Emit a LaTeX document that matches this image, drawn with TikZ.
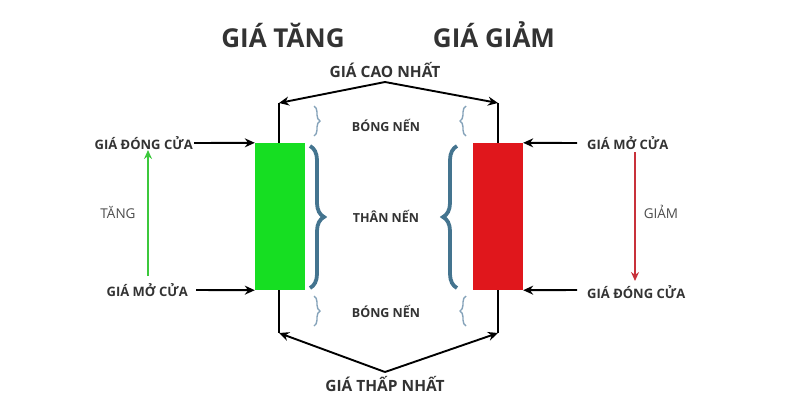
\documentclass[tikz,border=0pt]{standalone}
\usepackage{fontspec}
\setmainfont{Open Sans}
\usetikzlibrary{arrows.meta,decorations.pathreplacing}

\definecolor{upgreen}{HTML}{16DE22}
\definecolor{downred}{HTML}{E0171C}
\definecolor{uparrow}{HTML}{3CC83C}
\definecolor{downarrow}{HTML}{C8313A}
\definecolor{bracedark}{HTML}{44748F}
\definecolor{bracelight}{HTML}{86A3BA}
\definecolor{textgray}{HTML}{333333}

\begin{document}
\begin{tikzpicture}[x=1pt, y=-1pt,
    title/.style={font=\bfseries\fontsize{26}{30}\selectfont, text=textgray},
    lbl/.style={font=\bfseries\fontsize{13}{15}\selectfont, text=textgray, inner sep=1pt},
    extlbl/.style={font=\bfseries\fontsize{15.5}{18}\selectfont, text=textgray, inner sep=1pt},
    midlbl/.style={font=\bfseries\fontsize{12.5}{14}\selectfont, text=textgray},
    dirlbl/.style={font=\fontsize{13.5}{16}\selectfont, text=black!70},
    candle/.style={minimum width=50pt, minimum height=147pt, inner sep=0pt},
    ptr/.style={line width=1.9pt, -{Stealth[length=10pt,width=9pt]}},
    wick/.style={line width=1.9pt},
    bigbrace/.style={line width=3.8pt, draw=bracedark, decorate, decoration={brace, amplitude=14pt}},
    smallbrace/.style={line width=1.4pt, draw=bracelight, decorate, decoration={brace, amplitude=6pt}}]
    \useasboundingbox (0,0) rectangle (800,400);

    % titles
    \node[title] (tup) at (283,35) {GIÁ TĂNG};
    \node[title] (tdown) at (494,35) {GIÁ GIẢM};

    % wick ends
    \coordinate (ghigh) at (279,103);
    \coordinate (glow) at (279,333);
    \coordinate (rhigh) at (498,103);
    \coordinate (rlow) at (498,333);
    \draw[wick] (ghigh) -- (glow);
    \draw[wick] (rhigh) -- (rlow);

    % candle bodies
    \node[candle, fill=upgreen] (gbody) at (280,216.5) {};
    \node[candle, fill=downred] (rbody) at (498,216.5) {};

    % highest and lowest price
    \node[extlbl] (high) at (385,70) {GIÁ CAO NHẤT};
    \coordinate (hpt) at (385,82);
    \draw[ptr] (hpt) -- (ghigh);
    \draw[ptr] (hpt) -- (rhigh);
    \node[extlbl] (low) at (385,384) {GIÁ THẤP NHẤT};
    \coordinate (lpt) at (385,372);
    \draw[ptr] (lpt) -- (glow);
    \draw[ptr] (lpt) -- (rlow);

    % left side labels
    \node[lbl, anchor=east] (gclose) at (194,143) {GIÁ ĐÓNG CỬA};
    \node[lbl, anchor=east] (gopen) at (189,290) {GIÁ MỞ CỬA};
    \coordinate (gopenstart) at (196,290);
    \draw[ptr] (gclose.east) -- (gbody.north west);
    \draw[ptr] (gopenstart) -- (gbody.south west);
    \coordinate (ustart) at (148,276);
    \coordinate (uend) at (148,150);
    \draw[line width=1.9pt, uparrow, -{Stealth[length=9pt,width=8pt]}] (ustart) -- (uend);
    \node[dirlbl] (up) at (118,212) {TĂNG};

    % right side labels
    \node[lbl, anchor=west] (ropen) at (586,143) {GIÁ MỞ CỬA};
    \node[lbl, anchor=west] (rclose) at (586,292) {GIÁ ĐÓNG CỬA};
    \coordinate (ropenstart) at (577,143);
    \coordinate (rclosestart) at (577,290);
    \draw[ptr] (ropenstart) -- (rbody.north east);
    \draw[ptr] (rclosestart) -- (rbody.south east);
    \coordinate (dstart) at (635,152);
    \coordinate (dend) at (635,281);
    \draw[line width=1.5pt, downarrow, -{Stealth[length=9pt,width=8pt]}] (dstart) -- (dend);
    \node[dirlbl] (down) at (661,212) {GIẢM};

    % braces
    \draw[smallbrace] (314,106) -- (314,136);
    \draw[smallbrace] (466,136) -- (466,106);
    \draw[smallbrace] (314,296) -- (314,326);
    \draw[smallbrace] (466,326) -- (466,296);
    \draw[bigbrace] (310,146) -- (310,288);
    \draw[bigbrace] (457,288) -- (457,146);

    \node[midlbl] (shadowtop) at (386,125) {BÓNG NẾN};
    \node[midlbl] (body) at (386,216) {THÂN NẾN};
    \node[midlbl] (shadowbot) at (386,311) {BÓNG NẾN};
\end{tikzpicture}
\end{document}
